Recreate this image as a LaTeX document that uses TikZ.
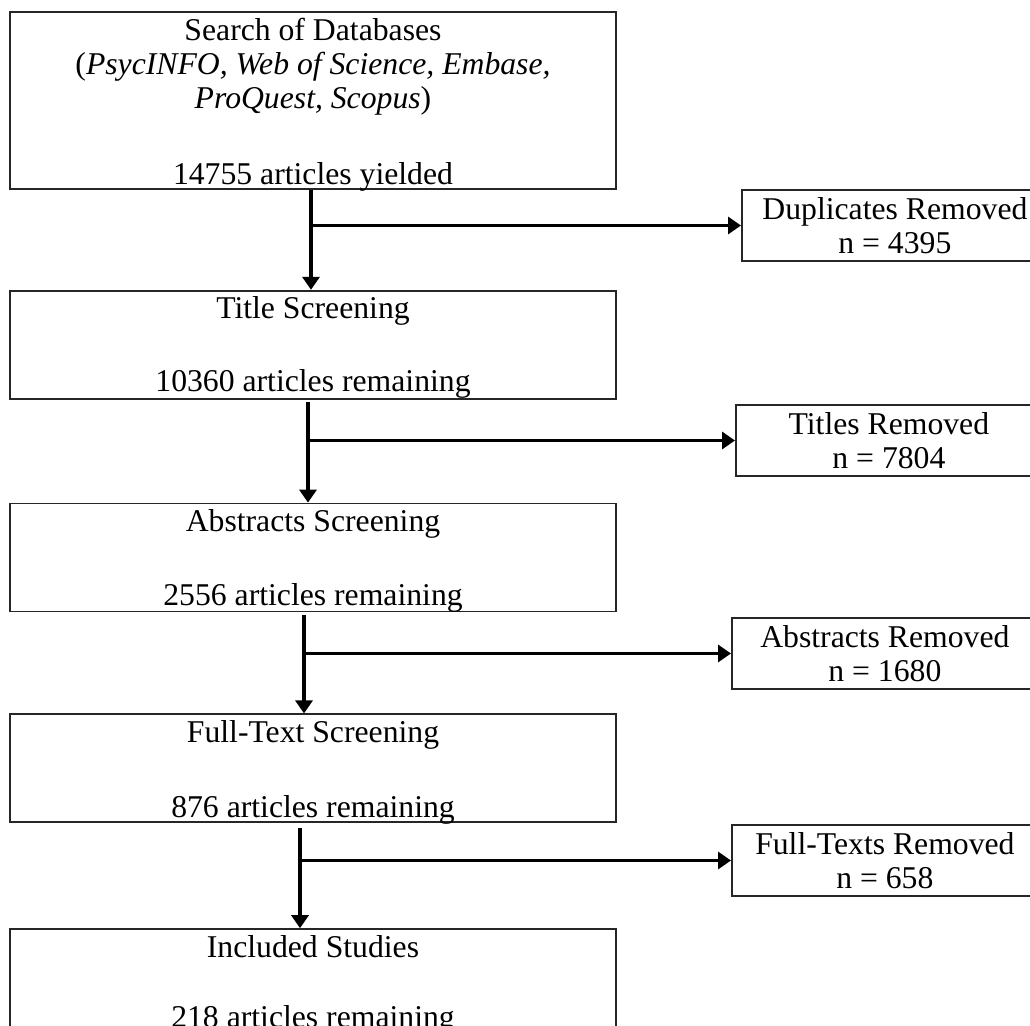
\documentclass[tikz,border=0pt]{standalone}
\usepackage{fontspec}
\setmainfont{Liberation Serif}
\usetikzlibrary{arrows.meta,positioning}

\begin{document}
\begin{tikzpicture}[x=1pt, y=-1pt, every node/.style={font=\fontsize{31.7}{34}\selectfont, inner sep=0pt}, stage/.style={draw=black!85, line width=1.8pt, minimum width=606pt, minimum height=#1, anchor=north}, stage/.default=108pt, removed/.style={draw=black!85, line width=1.8pt, minimum width=306pt, minimum height=71pt, anchor=west, align=center}, stagetext/.style={anchor=base, align=center}, flow/.style={line width=3.5pt, -{Triangle[length=13pt, width=17pt]}}]
	\useasboundingbox (0,0) rectangle (1030,1025);
	\node[stage=177pt] (search) at (313,11) {};
	\node[stage, below=100pt of search] (title) {};
	\node[stage, below=103pt of title] (abstract) {};
	\node[stage, below=101pt of abstract] (fulltext) {};
	\node[stage, below=105pt of fulltext] (included) {};
	\node[stagetext] (searchT) at ([yshift=-97pt]search.north) {Search of Databases\\(\textit{PsycINFO, Web of Science, Embase,}\\\textit{ProQuest, Scopus})};
	\node[stagetext] (searchN) at ([yshift=5pt]search.south) {14755 articles yielded};
	\node[stagetext] (titleT) at ([yshift=-29pt]title.north) {Title Screening};
	\node[stagetext] (titleN) at ([yshift=8pt]title.south) {10360 articles remaining};
	\node[stagetext] (abstractT) at ([yshift=-29pt]abstract.north) {Abstracts Screening};
	\node[stagetext] (abstractN) at ([yshift=7pt]abstract.south) {2556 articles remaining};
	\node[stagetext] (fulltextT) at ([yshift=-29pt]fulltext.north) {Full-Text Screening};
	\node[stagetext] (fulltextN) at ([yshift=6pt]fulltext.south) {876 articles remaining};
	\node[stagetext] (includedT) at ([yshift=-29pt]included.north) {Included Studies};
	\node[stagetext] (includedN) at ([yshift=-99pt]included.north) {218 articles remaining};
	\node[removed] (dup) at (741,225.5) {Duplicates Removed\\n = 4395};
	\node[removed] (titlerem) at (735,440.5) {Titles Removed\\n = 7804};
	\node[removed] (abstractrem) at (731,653.5) {Abstracts Removed\\n = 1680};
	\node[removed] (fulltextrem) at (731,860.5) {Full-Texts Removed\\n = 658};
	\coordinate (j1) at ([xshift=-2pt]search.south);
	\coordinate (j2) at ([xshift=-5pt, yshift=-2pt]title.south);
	\coordinate (j3) at ([xshift=-9pt, yshift=-3pt]abstract.south);
	\coordinate (j4) at ([xshift=-13pt, yshift=-5pt]fulltext.south);
	\draw[flow] (j1) -- (j1 |- title.north);
	\draw[flow] (j1 |- dup.west) -- (dup.west);
	\draw[flow] (j2) -- (j2 |- abstract.north);
	\draw[flow] (j2 |- titlerem.west) -- (titlerem.west);
	\draw[flow] (j3) -- (j3 |- fulltext.north);
	\draw[flow] (j3 |- abstractrem.west) -- (abstractrem.west);
	\draw[flow] (j4) -- (j4 |- included.north);
	\draw[flow] (j4 |- fulltextrem.west) -- (fulltextrem.west);
\end{tikzpicture}
\end{document}
